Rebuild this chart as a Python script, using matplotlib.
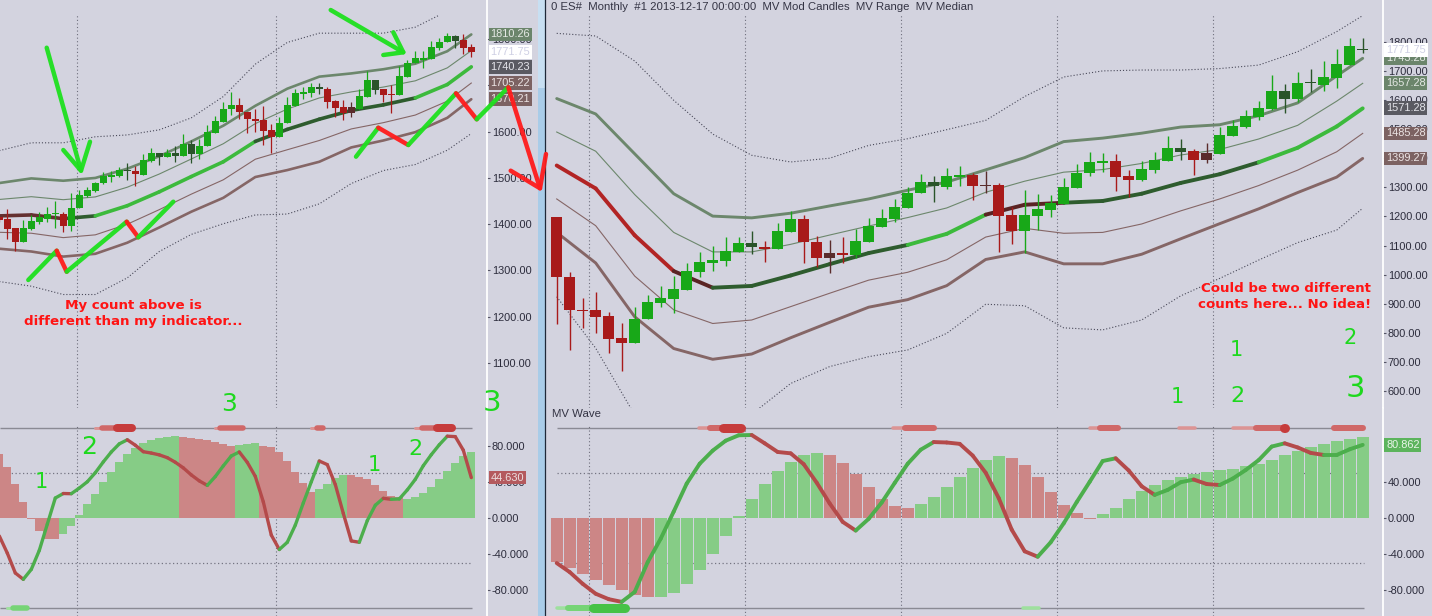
import numpy as np
import matplotlib
matplotlib.use("Agg")
import matplotlib.pyplot as plt
from matplotlib.collections import LineCollection
from matplotlib.patches import Rectangle
import matplotlib.transforms as mtransforms

plt.rcParams['font.family'] = ['Liberation Sans', 'DejaVu Sans']

# ======================= DATA =======================
# ---- left panel: weekly candles, index -1 .. 58 ----
l_first = -1
l_open = [1415,1411,1392,1362,1389,1405,1411,1421,1423,1397,
          1436,1462,1472,1490,1503,1505,1515,1515,1507,1537,
          1546,1546,1547,1547,1552,1552,1570,1598,1622,1650,
          1658,1643,1627,1625,1604,1589,1618,1656,1681,1684,
          1692,1692,1666,1653,1653,1650,1676,1690,1692,1682,
          1679,1719,1748,1755,1757,1781,1793,1797,1798,1784]
l_close = [1409,1389,1362,1392,1407,1415,1421,1425,1397,1436,
           1463,1474,1490,1505,1506,1517,1517,1508,1539,1555,
           1555,1555,1555,1573,1573,1570,1599,1623,1650,1658,
           1643,1627,1624,1602,1589,1619,1658,1683,1686,1696,
           1696,1665,1652,1641,1641,1677,1712,1712,1679,1680,
           1720,1749,1760,1759,1784,1794,1807,1807,1781,1771.75]
l_high = [1418,1432,1392,1409,1420,1426,1438,1451,1427,1467,
          1475,1481,1492,1512,1516,1524,1532,1526,1552,1564,
          1555,1562,1569,1595,1582,1584,1614,1634,1665,1685,
          1672,1643,1649,1655,1617,1632,1674,1692,1696,1705,
          1705,1696,1668,1668,1665,1692,1732,1712,1692,1701,
          1741,1756,1774,1774,1796,1803,1814,1808,1811,1789]
l_low = [1405,1367,1343,1362,1387,1400,1405,1392,1384,1386,
         1436,1459,1470,1488,1492,1503,1496,1483,1507,1535,
         1528,1546,1535,1547,1533,1542,1570,1598,1622,1636,
         1627,1598,1600,1571,1555,1589,1618,1656,1671,1676,
         1681,1652,1632,1625,1632,1650,1676,1681,1665,1641,
         1679,1719,1748,1738,1757,1776,1793,1780,1767,1762]
l_candle_col = ("rrrg" "gggg" "rggg" "gggg" "Grgg" "GgGg" "Gggg" "ggrr"
                "rrrg" "gggg" "Grrr" "RggG" "rrgg" "gggg" "gGrr")
# MV Median / MV Range knots
l_knot = [-1, 3, 7, 11, 15, 19, 23, 27, 31, 35, 39, 43, 47, 51, 55, 58]
l_median = [1418, 1420, 1412, 1418, 1440, 1470, 1503, 1535, 1579, 1605, 1627, 1646, 1658, 1673, 1702, 1740.23]
l_range = [35.5, 39.5, 41, 41, 40, 38.5, 38, 39, 38.5, 44, 46, 40, 38.5, 37, 36, 35.01]
l_median_col = "RRDBBBBBDDDDDBB"
l_updot_knot = [-1, 3, 7, 11, 15, 19, 23, 27, 31, 35, 39, 43, 47, 51, 54]
l_updot = [1559, 1576, 1576, 1589, 1593, 1604, 1630, 1676, 1746, 1793, 1813, 1813, 1813, 1826, 1852]
l_lodot_knot = [-1, 3, 7, 11, 15, 19, 23, 27, 31, 35, 39, 43, 47, 51, 55, 58]
l_lodot = [1276, 1266, 1248, 1248, 1284, 1341, 1378, 1401, 1420, 1422, 1444, 1488, 1516, 1529, 1560, 1596]
# MV Wave
l_hist = [71, 56, 38, 18, -1, -15, -23, -23.5, -17.5, -9,
          3, 15, 27, 40, 51, 62, 71, 77, 83, 86,
          88, 90, 91, 90, 89, 87, 86, 84, 82, 80,
          81, 82, 82.5, 80, 79, 73, 63, 51, 39, 29,
          32, 37.5, 44, 47.5, 47.2, 45, 42.7, 36.4, 29.8, 23.7,
          23.5, 21, 23.5, 28, 34, 43, 52, 61, 68.5, 73]
l_hist_col = "r" * 8 + "g" * 15 + "r" * 7 + "g" * 3 + "r" * 7 + "g" * 4 + "r" * 7 + "g" * 9
l_wave = [-20, -39, -61, -68, -57, -36, -7, 22, 27, 26.8,
          33, 40, 50, 62, 73, 82, 86.5, 80.5, 73.3, 71.8,
          69.8, 66.7, 61.6, 55.4, 47.6, 41, 36, 45.8, 57.6, 68.6,
          73, 61.5, 46, 17.8, -19, -35, -27, -8, 16.5, 40,
          63, 59, 37, 5, -25.5, -27, -3, 14, 21.7, 20.6,
          21, 31, 42.7, 57.8, 70, 81, 90.5, 90, 75, 44.63]
l_mtop_start = [10.96, 11.8, 13.7, 26.0, 26.6, 38.0, 38.75, 51.0, 51.8, 53.7]
l_mtop_end = [11.8, 13.7, 15.55, 26.6, 29.4, 38.75, 39.4, 51.8, 53.7, 55.55]
l_mtop_lvl = [1, 2, 3, 1, 2, 1, 2, 1, 2, 3]
l_mbot_start = [-0.1, 0.75]
l_mbot_end = [0.75, 2.4]
l_mbot_lvl = [1, 2]
l_grid = [8.68, 33.62]
l_price_ticks = [1100, 1200, 1300, 1400, 1500, 1600, 1700, 1800]
l_value_labels = [1810.26, 1771.75, 1740.23, 1705.22, 1670.21]
l_value_kinds = ["up", "last", "mid", "lo", "lo"]
l_wave_last = 44.630

# ---- right panel: ES# monthly, Oct 2008 .. Dec 2013, index 0 .. 62 ----
r_open = [1197,991,880,878,858,781,764,847,904,916,
          947,1010,1041,1048,1077,1096,1096,1087,1147,1191,
          1111,1073,1074,1067,1113,1165,1191,1230,1279,1304,
          1302,1336,1342,1309,1308,1205,1150,1201,1222,1242,
          1299,1348,1385,1390,1339,1325,1359,1390,1422,1426,
          1417,1414,1476,1506,1543,1569,1602,1602,1657,1651,
          1677,1720,1776]
r_close = [991,878,876,855,779,764,847,907,921,950,
           1012,1042,1050,1082,1108,1108,1087,1150,1191,1111,
           1058,1058,1069,1115,1168,1193,1231,1279,1317,1317,
           1339,1342,1305,1305,1201,1150,1205,1225,1245,1300,
           1348,1386,1389,1336,1325,1363,1394,1436,1434,1394,
           1394,1480,1511,1546,1574,1631,1631,1659,1661,1680,
           1724,1786,1771.75]
r_high = [1197,1008,919,941,872,833,890,930,961,995,
          1039,1077,1099,1128,1128,1150,1115,1178,1220,1205,
          1133,1119,1130,1156,1193,1224,1259,1300,1346,1339,
          1367,1373,1350,1356,1316,1231,1291,1276,1274,1331,
          1380,1420,1417,1414,1359,1390,1422,1476,1466,1432,
          1451,1506,1531,1566,1597,1686,1655,1697,1706,1735,
          1774,1814,1812]
r_low = [830,741,815,800,732,670,764,847,888,869,
         947,993,1013,1030,1077,1070,1044,1087,1147,1041,
         1027,1007,1041,1056,1113,1165,1182,1230,1279,1250,
         1293,1304,1256,1281,1079,1105,1073,1153,1199,1242,
         1299,1340,1354,1288,1266,1323,1350,1390,1394,1342,
         1382,1414,1476,1503,1531,1566,1556,1594,1628,1632,
         1642,1720,1763]
r_candle_col = ("rrrr" "rrgg" "gggg" "gggG" "rggr" "rRrg" "gggg" "gGgg"
                "rRrr" "gggg" "gggr" "rggg" "GrRg" "gggg" "GgGg" "ggG")
r_knot = [0, 3, 6, 9, 12, 15, 18, 21, 24, 27, 30, 33, 36, 39, 42, 45, 48, 51, 54, 57, 60, 62]
r_median = [1375, 1296, 1135, 1012, 955, 961, 997, 1036, 1074, 1102, 1140,
            1206, 1240, 1247, 1253, 1278, 1315, 1345, 1386, 1436, 1509, 1571.28]
r_range = [115, 128, 140, 133, 123, 117, 107, 100, 93, 94, 89,
           77, 81, 105, 108, 104, 96, 85, 80, 77, 87, 86]
r_median_col = "rrrbDDDDDBBbbDDDDDBBB"
r_updot = [1829, 1820, 1734, 1599, 1483, 1410, 1387, 1400, 1444, 1467, 1498,
           1530, 1612, 1679, 1700, 1703, 1703, 1708, 1720, 1766, 1835, 1890]
r_lodot = [924, 747, 518, 420, 430, 520, 626, 684, 718, 741, 798,
           898, 893, 817, 810, 844, 927, 987, 1050, 1110, 1153, 1228]
r_hist = [-48.5, -55, -62, -69, -74, -80, -85, -87.5, -87.2, -83,
          -73, -58, -40, -20, 2, 21, 37.5, 52, 62, 70,
          72, 70, 61, 48.5, 34, 21, 13, 11, 15, 23,
          34, 45, 55, 64, 68.5, 66, 58.5, 45, 29, 14,
          5, -1.5, 4, 11, 21, 30, 36, 42, 45, 48.5,
          51, 53, 54, 57, 60, 64, 70, 74, 78, 82,
          85, 87.5, 89.6]
r_hist_col = "r" * 8 + "g" * 13 + "r" * 7 + "g" * 7 + "r" * 7 + "g" * 21
r_wave = [-50, -60, -73, -84, -90, -93, -82, -49, -23, 7,
          38, 60, 74.5, 85.5, 91.5, 91.8, 82.6, 73, 71.5, 59.5,
          39, 16, -4.4, -14, -1, 17, 38.7, 60, 75.5, 84,
          83.5, 82, 69, 50, 22, -13, -37, -43, -27, -6,
          17.5, 40, 63, 66, 52.5, 35, 25.5, 31, 39.5, 42.5,
          37.5, 36.4, 43.5, 53, 64, 79, 82.6, 78, 72, 69.7,
          69.7, 76, 80.862]
r_mtop_start = [10.97, 11.8, 12.77, 25.9, 26.8, 29.0, 41.0, 41.8, 47.9, 52.0, 53.8, 55.95, 59.8, 62.0]
r_mtop_end = [11.8, 12.77, 14.2, 26.8, 29.0, 29.05, 41.8, 43.2, 49.1, 53.8, 55.95, 56.0, 62.0, 62.05]
r_mtop_lvl = [1, 2, 3, 1, 2, 3, 1, 2, 1, 1, 2, 3, 2, 3]
r_mbot_start = [0.0, 0.9, 2.8, 35.9]
r_mbot_end = [0.9, 2.8, 5.25, 37.1]
r_mbot_lvl = [1, 2, 3, 1]
r_grid = [2.5, 14.5, 26.5, 38.5, 50.5]
r_price_ticks = [600, 700, 800, 900, 1000, 1100, 1200, 1300, 1400, 1500, 1600, 1700, 1800]
r_value_labels = [1743.28, 1771.75, 1657.28, 1571.28, 1485.28, 1399.27]
r_value_kinds = ["up", "last", "up", "mid", "lo", "lo"]
r_wave_last = 80.862
osc_ticks = [-80, -40, 0, 40, 80]
title_text = "0 ES#  Monthly  #1 2013-12-17 00:00:00  MV Mod Candles  MV Range  MV Median"

# ======================= STYLE =======================
W, H = 1432, 616
BG = "#d3d3df"
CANDLE = {"g": "#18a818", "r": "#a81a1a", "G": "#2a542a", "R": "#5a2c2c"}
MEDC = {"R": "#643030", "r": "#b22424", "b": "#5a2424", "D": "#2e5c2e", "B": "#3cba3c"}
HISTC = {"g": "#86cc86", "r": "#cc8686"}
UPC, LOC, DOTC = "#6c876c", "#856666", "#4a4a5a"
BOXC = {"up": ("#6b856b", "#e4e8e4"), "last": ("#ffffff", "#cfd0e4"),
        "mid": ("#5a5a62", "#e4e4ea"), "lo": ("#7c6262", "#ece4e4")}
TOPMK = {1: "#dc9494", 2: "#d06868", 3: "#c63c3c"}
BOTMK = {1: "#9ee09e", 2: "#76d476", 3: "#46c246"}
TICKLBL = "#2c2c3c"

fig = plt.figure(figsize=(W / 100, H / 100), dpi=100)
fig.patch.set_facecolor(BG)


def px_axes(x0, y0, x1, y1, z=1):
    return fig.add_axes([x0 / W, 1 - y1 / H, (x1 - x0) / W, (y1 - y0) / H], zorder=z)


def style(ax, xlim, ylim, ticks, fmt):
    ax.set_facecolor(BG)
    ax.set_xlim(*xlim)
    ax.set_ylim(*ylim)
    for s in ("top", "bottom", "left"):
        ax.spines[s].set_visible(False)
    ax.spines["right"].set_color("white")
    ax.spines["right"].set_linewidth(1.3)
    ax.yaxis.tick_right()
    ax.set_yticks(ticks)
    ax.set_yticklabels([fmt.format(t) for t in ticks])
    ax.tick_params(axis="y", length=2.5, width=0.8, color="#555566", pad=1.2,
                   labelsize=7.9, labelcolor=TICKLBL)
    ax.set_xticks([])


def value_box(ax, x_frac, val, fmt, fc, tc):
    tr = mtransforms.blended_transform_factory(ax.transAxes, ax.transData)
    ax.text(x_frac, val, fmt.format(val), transform=tr, ha="left", va="center",
            fontsize=7.9, color=tc, clip_on=False, zorder=20,
            bbox=dict(boxstyle="square,pad=0.17", fc=fc, ec="none"))


def draw_price(ax, first, o, h, l, c, ccol, width, wick_lw, minh,
               knot, med, rng, medcol, udk, ud, ldk, ld, lw_thick, lw_med, grid, gtop):
    o, h, l, c = (np.asarray(v, float) for v in (o, h, l, c))
    idx = np.arange(len(o)) + first
    cols = [CANDLE[ch] for ch in ccol]
    for g in grid:
        ax.axvline(g, ymin=0, ymax=gtop, color="#6e6e7c", lw=0.8, ls=(0, (1, 2.2)), zorder=1)
    knot = np.asarray(knot, float)
    med = np.asarray(med, float)
    rng = np.asarray(rng, float)
    ax.plot(udk, ud, color=DOTC, lw=0.8, ls=(0, (1, 1.8)), zorder=2)
    ax.plot(ldk, ld, color=DOTC, lw=0.8, ls=(0, (1, 1.8)), zorder=2)
    ax.plot(knot, med + 2 * rng, color=UPC, lw=lw_thick, zorder=3, solid_capstyle="round")
    ax.plot(knot, med + rng, color=UPC, lw=0.8, zorder=3)
    ax.plot(knot, med - rng, color=LOC, lw=0.8, zorder=3)
    ax.plot(knot, med - 2 * rng, color=LOC, lw=lw_thick, zorder=3, solid_capstyle="round")
    pts = np.column_stack([knot, med])
    segs = np.stack([pts[:-1], pts[1:]], axis=1)
    ax.add_collection(LineCollection(segs, colors=[MEDC[ch] for ch in medcol],
                                     linewidths=lw_med, capstyle="round", zorder=3.5))
    ax.vlines(idx, l, h, colors=cols, lw=wick_lw, zorder=4)
    bottoms = np.minimum(o, c)
    heights = np.maximum(np.abs(c - o), minh)
    ax.bar(idx, heights, bottom=bottoms, width=width, color=cols, linewidth=0, zorder=5)


def draw_osc(ax, first, hist, hcol, bw, wave, wave_lw, span,
             ts, te, tl, bs, be, bl, mk_px, grid, gtop):
    idx = np.arange(len(hist)) + first
    for g in grid:
        ax.axvline(g, ymin=0, ymax=gtop, color="#6e6e7c", lw=0.8, ls=(0, (1, 2.2)), zorder=1)
    ax.bar(idx, hist, width=bw, color=[HISTC[ch] for ch in hcol], linewidth=0, zorder=2)
    ax.hlines([100, -100], span[0], span[1], color="#8a8a94", lw=1.0, zorder=1.5)
    ax.hlines([50, -50], span[0], span[1], color="#747482", lw=0.9, ls=(0, (1, 2)), zorder=1.5)
    wave = np.asarray(wave, float)
    widx = np.arange(len(wave)) + first
    pts = np.column_stack([widx, wave])
    segs = np.stack([pts[:-1], pts[1:]], axis=1)
    wc = ["#4cae4c" if wave[i + 1] >= wave[i] else "#b44a4a" for i in range(len(wave) - 1)]
    ax.add_collection(LineCollection(segs, colors=wc, linewidths=wave_lw, capstyle="round", zorder=4))
    for s, e, lv in zip(ts, te, tl):
        ax.plot([s, e], [100, 100], color=TOPMK[lv], lw=mk_px[lv] * 0.72,
                solid_capstyle="round", zorder=3)
    for s, e, lv in zip(bs, be, bl):
        ax.plot([s, e], [-100, -100], color=BOTMK[lv], lw=mk_px[lv] * 0.72,
                solid_capstyle="round", zorder=3)


# ---------- geometry ----------
LX1 = 486.7
RX0, RX1 = 548, 1382.7
PY1 = 408
l_xlim = ((0 - 7.3) / 8, (LX1 - 7.3) / 8)
r_xlim = ((RX0 - 556.7) / 13, (RX1 - 556.7) / 13)
l_ylim = (1600 - (PY1 - 131.7) * 2.162, 1600 + 131.7 * 2.162)
r_ylim = (1300 - (PY1 - 187.3) / 0.291, 1300 + 187.3 / 0.291)
o_ylim = ((517.9 - 616) / 0.903, (517.9 - PY1) / 0.903)
p_gtop = 1 - 14 / PY1
o_gtop = (616 - 424) / (616 - PY1)

# ---------- left ----------
axLP = px_axes(0, 0, LX1, PY1)
style(axLP, l_xlim, l_ylim, l_price_ticks, "{:.2f}")
draw_price(axLP, l_first, l_open, l_high, l_low, l_close, l_candle_col, 0.82, 0.9, 2.4,
           l_knot, l_median, l_range, l_median_col, l_updot_knot, l_updot,
           l_lodot_knot, l_lodot, 1.9, 2.6, l_grid, p_gtop)
for v, kd in zip(l_value_labels, l_value_kinds):
    value_box(axLP, (490 - 0) / LX1 + 0.001, v, "{:.2f}", *BOXC[kd])

axLO = px_axes(0, PY1, LX1, H)
style(axLO, l_xlim, o_ylim, osc_ticks, "{:.3f}")
draw_osc(axLO, l_first, l_hist, l_hist_col, 1.0, l_wave, 2.4, (l_xlim[0], 58.1),
         l_mtop_start, l_mtop_end, l_mtop_lvl, l_mbot_start, l_mbot_end, l_mbot_lvl,
         {1: 3.0, 2: 5.5, 3: 8.0}, l_grid, o_gtop)
value_box(axLO, (490 - 0) / LX1 + 0.001, l_wave_last, "{:.3f}", "#b45a5e", "#ecdede")

# ---------- right ----------
axRP = px_axes(RX0, 0, RX1, PY1)
style(axRP, r_xlim, r_ylim, r_price_ticks, "{:.2f}")
draw_price(axRP, 0, r_open, r_high, r_low, r_close, r_candle_col, 0.85, 1.0, 3.5,
           r_knot, r_median, r_range, r_median_col, r_knot, r_updot,
           r_knot, r_lodot, 2.1, 2.8, r_grid, p_gtop)
for v, kd in zip(r_value_labels, r_value_kinds):
    value_box(axRP, (1386 - RX0) / (RX1 - RX0), v, "{:.2f}", *BOXC[kd])

axRO = px_axes(RX0, PY1, RX1, H)
style(axRO, r_xlim, o_ylim, osc_ticks, "{:.3f}")
draw_osc(axRO, 0, r_hist, r_hist_col, 0.92, r_wave, 2.8, (0, 62.1),
         r_mtop_start, r_mtop_end, r_mtop_lvl, r_mbot_start, r_mbot_end, r_mbot_lvl,
         {1: 3.5, 2: 6.0, 3: 9.0}, r_grid, o_gtop)
value_box(axRO, (1386 - RX0) / (RX1 - RX0), r_wave_last, "{:.3f}", "#5cb45c", "#e8f4e8")

# ---------- overlay: separator, titles, hand-drawn annotations ----------
ov = fig.add_axes([0, 0, 1, 1], zorder=30)
ov.set_xlim(0, W)
ov.set_ylim(H, 0)
ov.axis("off")
ov.patch.set_alpha(0)
ov.add_patch(Rectangle((537.5, 0), 7, H, facecolor="#a9cce8", edgecolor="none"))
ov.add_patch(Rectangle((537.5, 0), 7, 88, facecolor="#c7dff2", edgecolor="none"))
ov.plot([545.2, 545.2], [0, H], color="#1e2838", lw=0.9)
ov.text(551, 7, title_text, fontsize=8.2, color="#343444", ha="left", va="center")
ov.text(552, 414, "MV Wave", fontsize=8.2, color="#343444", ha="left", va="center")

GREEN, RED = "#1ee01e", "#ff1c1c"
SLW = 3.2


def stroke(pts, col):
    xs, ys = zip(*pts)
    ov.plot(xs, ys, color=col, lw=SLW, solid_capstyle="round", solid_joinstyle="round", alpha=0.95)


def zigzag(pts, cols):
    for i, c in enumerate(cols):
        stroke([pts[i], pts[i + 1]], GREEN if c == "g" else RED)


stroke([(46.7, 47.7), (81, 170.7)], GREEN)
stroke([(63.3, 150), (81, 170.7), (90, 141.7)], GREEN)
zigzag([(28.3, 280), (56.7, 250.7), (66.7, 271.7), (126.7, 221.7), (138.3, 237.3), (173.3, 201.7)], "grgrg")
stroke([(330.7, 10), (403.3, 52.3)], GREEN)
stroke([(383.3, 55), (403.3, 52.3), (393.3, 32.3)], GREEN)
zigzag([(356, 156.7), (378.3, 127.7), (408.3, 145), (456, 93.3), (476.7, 119.3), (508.3, 87.3)], "grgrg")
stroke([(508.3, 87.3), (540, 188.3)], RED)
stroke([(510.7, 170.7), (540, 188.3), (546, 154)], RED)

rt = dict(color="#ff1414", fontweight="bold", fontsize=9.6, family=["DejaVu Sans"])
ov.text(133, 305, "My count above is", ha="center", va="center", **rt)
ov.text(133, 321, "different than my indicator...", ha="center", va="center", **rt)
ov.text(1371, 289, "Could be two different", ha="right", va="center", **rt)
ov.text(1371, 305, "counts here... No idea!", ha="right", va="center", **rt)

for s, x, y, fs in [("1", 41.7, 482, 15), ("2", 89, 447, 18), ("3", 229, 404, 18),
                    ("1", 374.3, 465, 15), ("2", 415.7, 449, 16), ("3", 491.7, 403, 21),
                    ("1", 1236, 350, 15), ("2", 1350, 337.5, 15), ("1", 1177, 397, 15),
                    ("2", 1237, 396.5, 16), ("3", 1355, 388.5, 22)]:
    ov.text(x, y, s, ha="center", va="center", fontsize=fs, color="#1ed81e",
            family=["DejaVu Sans"])

fig.savefig("out.png", dpi=100, facecolor=BG)
